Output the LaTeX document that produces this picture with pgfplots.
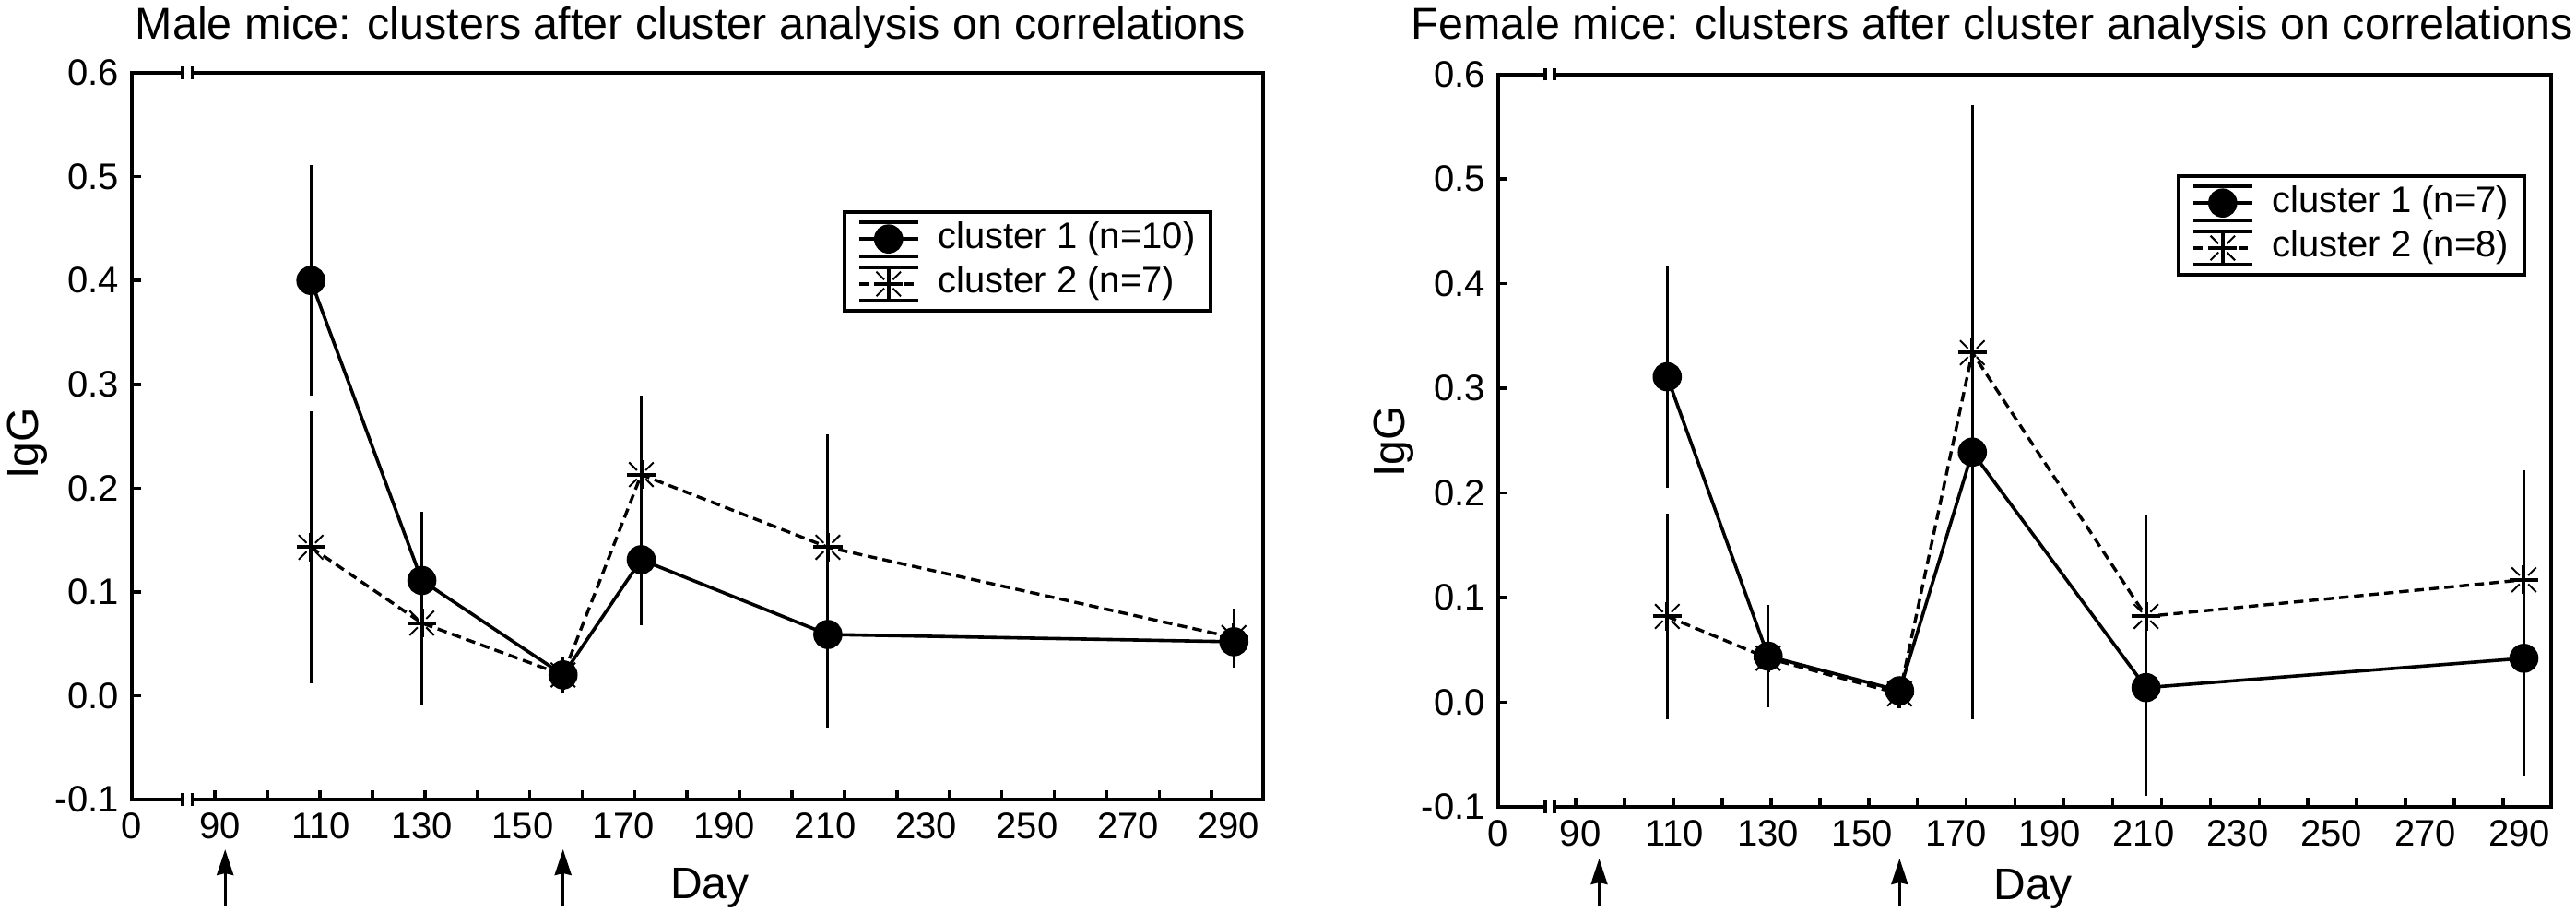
\documentclass[border=0pt]{standalone}
\usepackage{fontspec}
\setmainfont{Liberation Sans}
\usepackage{pgfplots}
\pgfplotsset{compat=1.18}
\usetikzlibrary{arrows.meta}

\pgfdeclareplotmark{ast8}{%
  \pgfsetlinewidth{1pt}%
  \pgfpathmoveto{\pgfqpoint{-\pgfplotmarksize}{0pt}}%
  \pgfpathlineto{\pgfqpoint{\pgfplotmarksize}{0pt}}%
  \pgfpathmoveto{\pgfqpoint{0pt}{-\pgfplotmarksize}}%
  \pgfpathlineto{\pgfqpoint{0pt}{\pgfplotmarksize}}%
  \pgfusepathqstroke
  \pgfsetlinewidth{0.5pt}%
  \pgfpathmoveto{\pgfqpoint{0.3\pgfplotmarksize}{0.3\pgfplotmarksize}}%
  \pgfpathlineto{\pgfqpoint{0.85\pgfplotmarksize}{0.85\pgfplotmarksize}}%
  \pgfpathmoveto{\pgfqpoint{-0.3\pgfplotmarksize}{0.3\pgfplotmarksize}}%
  \pgfpathlineto{\pgfqpoint{-0.85\pgfplotmarksize}{0.85\pgfplotmarksize}}%
  \pgfpathmoveto{\pgfqpoint{0.3\pgfplotmarksize}{-0.3\pgfplotmarksize}}%
  \pgfpathlineto{\pgfqpoint{0.85\pgfplotmarksize}{-0.85\pgfplotmarksize}}%
  \pgfpathmoveto{\pgfqpoint{-0.3\pgfplotmarksize}{-0.3\pgfplotmarksize}}%
  \pgfpathlineto{\pgfqpoint{-0.85\pgfplotmarksize}{-0.85\pgfplotmarksize}}%
  \pgfusepathqstroke
}

\pgfplotsset{
  legend image code/.code={
    \draw[line width=1pt,solid,black] (0pt,4.6pt) -- (16pt,4.6pt);
    \draw[line width=1pt,solid,black] (0pt,-4.6pt) -- (16pt,-4.6pt);
    \draw[mark repeat=2,mark phase=2,#1] plot coordinates {(0pt,0pt) (8pt,0pt) (16pt,0pt)};
  },
  c1/.style={black, line width=0.9pt, solid, mark=*, mark size=3.5pt,
    mark options={solid, fill=black},
    error bars/.cd, y dir=both, y explicit, error mark=none,
    error bar style={line width=0.75pt, solid, black}},
  c2/.style={black, line width=0.85pt, dash pattern=on 2.6pt off 1.5pt,
    mark=ast8, mark size=3.9pt, mark options={solid},
    error bars/.cd, y dir=both, y explicit, error mark=none,
    error bar style={line width=0.75pt, solid, black}},
  myaxis/.style={
    anchor=south west, scale only axis,
    xmin=72.5, xmax=296.8, ymin=-0.1, ymax=0.6,
    xtick={72.5,90,110,130,150,170,190,210,230,250,270,290},
    xticklabels={0,90,110,130,150,170,190,210,230,250,270,290},
    minor xtick={89,99.4,109.8,120.2,130.6,141,151.4,161.8,172.2,182.6,193,203.4,213.8,224.2,234.6,245,255.4,265.8,276.2,286.6},
    ytick={-0.1,0,0.1,0.2,0.3,0.4,0.5,0.6},
    yticklabels={-0.1,0.0,0.1,0.2,0.3,0.4,0.5,0.6},
    minor ytick={-0.1,0,0.1,0.2,0.3,0.4,0.5,0.6},
    tick align=inside, xtick pos=bottom, ytick pos=left,
    major tick length=0pt, minor tick length=2.6pt,
    tick style={black, line width=0.9pt},
    axis line style={line width=1pt},
    tick label style={font=\fontsize{10}{12}\selectfont},
    label style={font=\fontsize{12}{14}\selectfont},
    xlabel={Day}, ylabel={IgG},
    clip=false,
    legend cell align=left,
    legend style={draw=black, line width=1pt, font=\fontsize{10}{12}\selectfont,
      inner xsep=3.5pt, inner ysep=1.2pt, row sep=0pt, column sep=4.3pt,
      nodes={inner sep=0.6pt, text height=8pt, text depth=3pt}},
  },
}

\begin{document}
\begin{tikzpicture}
\path[use as bounding box] (0,0) rectangle (698.5pt,247pt);

\node[anchor=base west, font=\fontsize{12.1}{14}\selectfont, inner sep=0pt] at (36.5pt,236.5pt)
  {Male mice: clusters after cluster analysis on correlations};
\node[anchor=base east, font=\fontsize{12.1}{14}\selectfont, inner sep=0pt] at (698pt,236.5pt)
  {Female mice: clusters after cluster analysis on correlations};

% ---------------- Male ----------------
\begin{axis}[myaxis, at={(35.75pt,30.25pt)}, width=306.75pt, height=197pt,
  legend style={at={(0.955,0.811)}, anchor=north east},
  ylabel style={at={(rel axis cs:-0.092,0.49)}, anchor=center},
  xlabel style={at={(rel axis cs:0.511,-0.137)}, anchor=base},
]
\addplot[c1] coordinates {
  (108,0.400) +- (0,0.111)
  (130,0.111) +- (0,0.066)
  (158,0.020) +- (0,0.012)
  (173.5,0.131) +- (0,0.063)
  (210.5,0.059) +- (0,0.091)
  (291,0.052) +- (0,0.025)
};
\addlegendentry{cluster 1 (n=10)}
\addplot[c2] coordinates {
  (108,0.143) +- (0,0.131)
  (130,0.070) +- (0,0.079)
  (158,0.020) +- (0,0.017)
  (173.5,0.213) +- (0,0.076)
  (210.5,0.143) +- (0,0.109)
  (291,0.056) +- (0,0.028)
};
\addlegendentry{cluster 2 (n=7)}
\coordinate (bl) at (axis cs:83.5,-0.1);
\coordinate (tl) at (axis cs:83.5,0.6);
\coordinate (a1) at (axis cs:91,-0.1);
\coordinate (a2) at (axis cs:158,-0.1);
\end{axis}

% ---------------- Female ----------------
\begin{axis}[myaxis, at={(406.25pt,28.25pt)}, width=285.5pt, height=198.6pt,
  legend style={at={(0.976,0.8636)}, anchor=north east},
  ylabel style={at={(rel axis cs:-0.099,0.4985)}, anchor=center},
  xlabel style={at={(rel axis cs:0.508,-0.127)}, anchor=base},
]
\addplot[c1] coordinates {
  (108.5,0.311) +- (0,0.106)
  (130,0.044) +- (0,0.049)
  (158,0.011) +- (0,0.008)
  (173.5,0.239) +- (0,0.255)
  (210.5,0.014) +- (0,0.103)
  (291,0.042) +- (0,0.113)
};
\addlegendentry{cluster 1 (n=7)}
\addplot[c2] coordinates {
  (108.5,0.082) +- (0,0.098)
  (130,0.042) +- (0,0.035)
  (158,0.008) +- (0,0.006)
  (173.5,0.334) +- (0,0.237)
  (210.5,0.082) +- (0,0.097)
  (291,0.117) +- (0,0.105)
};
\addlegendentry{cluster 2 (n=8)}
\coordinate (br) at (axis cs:83.5,-0.1);
\coordinate (tr) at (axis cs:83.5,0.6);
\coordinate (b1) at (axis cs:94,-0.1);
\coordinate (b2) at (axis cs:158,-0.1);
\end{axis}

% axis breaks
\foreach \p in {bl,tl,br,tr}{
  \fill[white] ([xshift=-1.2pt,yshift=-0.8pt]\p) rectangle ([xshift=1.2pt,yshift=0.8pt]\p);
  \draw[line width=0.9pt] ([xshift=-1.3pt,yshift=-1.7pt]\p) -- ++(0,3.4pt)
                          ([xshift=1.3pt,yshift=-1.7pt]\p) -- ++(0,3.4pt);
}
% arrows
\foreach \p in {a1,a2}{
  \draw[line width=0.75pt,-{Stealth[length=7pt,width=4.5pt,inset=0.5pt]}] ([yshift=-29pt]\p) -- ([yshift=-13.5pt]\p);
}
\foreach \p in {b1,b2}{
  \draw[line width=0.75pt,-{Stealth[length=7pt,width=4.5pt,inset=0.5pt]}] ([yshift=-27pt]\p) -- ([yshift=-14pt]\p);
}
\end{tikzpicture}
\end{document}
